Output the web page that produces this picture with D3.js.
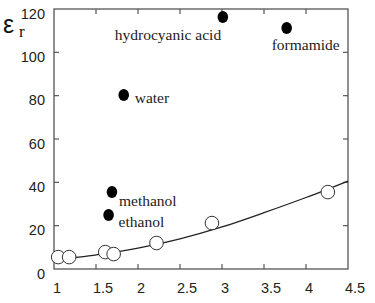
<!DOCTYPE html>
<html><head><meta charset="utf-8">
<script src="https://cdn.jsdelivr.net/npm/d3@7/dist/d3.min.js"></script>
<style>body{margin:0;background:#fff}svg{display:block}</style>
</head><body><svg id="c" width="375" height="303"></svg>
<script>
// Data
const xTicks = [1, 1.5, 2, 2.5, 3, 3.5, 4, 4.5];
const yTicks = [0, 20, 40, 60, 80, 100, 120];
const filledNames = ["water", "hydrocyanic acid", "formamide", "methanol", "ethanol"];
const filledX = [1.83, 3.01, 3.77, 1.69, 1.65];
const filledY = [80.3, 116.3, 111.2, 35.5, 24.9];
const openX = [1.05, 1.18, 1.61, 1.71, 2.22, 2.88, 4.26];
const openY = [5.5, 5.5, 7.8, 6.9, 12.0, 21.2, 35.5];
const curveX = [1.0, 1.25, 1.5, 2.0, 2.5, 3.0, 3.5, 4.0, 4.5];
const curveY = [4.6, 5.3, 6.5, 9.6, 13.9, 19.4, 26.0, 33.0, 40.6];
// label placement (dx, dy from its point)
const labelDX = [11, -108, -15, 7, 10];
const labelDY = [8, 23, 22, 14, 12];

const svg = d3.select("#c");
const x = d3.scaleLinear().domain([1, 4.5]).range([54, 348]);
const y = d3.scaleLinear().domain([0, 120]).range([269, 9]);
const axisCol = "#555";

// frame
svg.append("rect").attr("x", 54).attr("y", 9).attr("width", 294).attr("height", 260)
  .attr("fill", "none").attr("stroke", axisCol).attr("stroke-width", 1.3);

// ticks (inward)
const tl = 5;
xTicks.slice(1, -1).forEach(t => {
  svg.append("line").attr("x1", x(t)).attr("x2", x(t)).attr("y1", 269).attr("y2", 269 - tl).attr("stroke", axisCol).attr("stroke-width", 1.2);
  svg.append("line").attr("x1", x(t)).attr("x2", x(t)).attr("y1", 9).attr("y2", 9 + tl).attr("stroke", axisCol).attr("stroke-width", 1.2);
});
yTicks.slice(1, -1).forEach(t => {
  svg.append("line").attr("x1", 54).attr("x2", 54 + tl).attr("y1", y(t)).attr("y2", y(t)).attr("stroke", axisCol).attr("stroke-width", 1.2);
  svg.append("line").attr("x1", 348).attr("x2", 348 - tl).attr("y1", y(t)).attr("y2", y(t)).attr("stroke", axisCol).attr("stroke-width", 1.2);
});

// tick labels
const numFont = "'Liberation Sans', Arial, sans-serif";
svg.selectAll("text.xl").data(xTicks).enter().append("text")
  .attr("x", d => x(d) + (String(d).includes(".") ? 7 : 3)).attr("y", 293)
  .attr("text-anchor", "middle").attr("font-family", numFont).attr("font-size", 14.5)
  .attr("fill", "#222").text(d => d);
svg.selectAll("text.yl").data(yTicks).enter().append("text")
  .attr("x", 45).attr("y", d => y(d) + 9.5)
  .attr("text-anchor", "end").attr("font-family", numFont).attr("font-size", 14.5)
  .attr("fill", "#222").text(d => d);

// axis title epsilon_r
svg.append("text").attr("x", 3).attr("y", 33).attr("font-family", numFont)
  .attr("font-size", 25).attr("fill", "#111").text("ε");
svg.append("text").attr("x", 19).attr("y", 37).attr("font-family", "'Liberation Serif', 'Times New Roman', serif")
  .attr("font-size", 17).attr("fill", "#111").text("r");

// curve
const curve = curveX.map((v, i) => [v, curveY[i]]);
svg.append("path").datum(curve)
  .attr("d", d3.line().x(d => x(d[0])).y(d => y(d[1])).curve(d3.curveMonotoneX))
  .attr("fill", "none").attr("stroke", "#222").attr("stroke-width", 1.3);

// open circles
svg.selectAll("circle.o").data(openX).enter().append("circle")
  .attr("cx", d => x(d)).attr("cy", (d, i) => y(openY[i])).attr("r", 6.8)
  .attr("fill", "#fff").attr("stroke", "#333").attr("stroke-width", 1);

// filled dots
svg.selectAll("ellipse.f").data(filledX).enter().append("ellipse")
  .attr("cx", d => x(d)).attr("cy", (d, i) => y(filledY[i])).attr("rx", 5.3).attr("ry", 6)
  .attr("fill", "#000");

// labels
svg.selectAll("text.nl").data(filledNames).enter().append("text")
  .attr("x", (d, i) => x(filledX[i]) + labelDX[i]).attr("y", (d, i) => y(filledY[i]) + labelDY[i])
  .attr("font-family", "'Liberation Serif', 'Times New Roman', serif").attr("font-size", 15.5)
  .attr("fill", "#222").text(d => d);
</script></body></html>
